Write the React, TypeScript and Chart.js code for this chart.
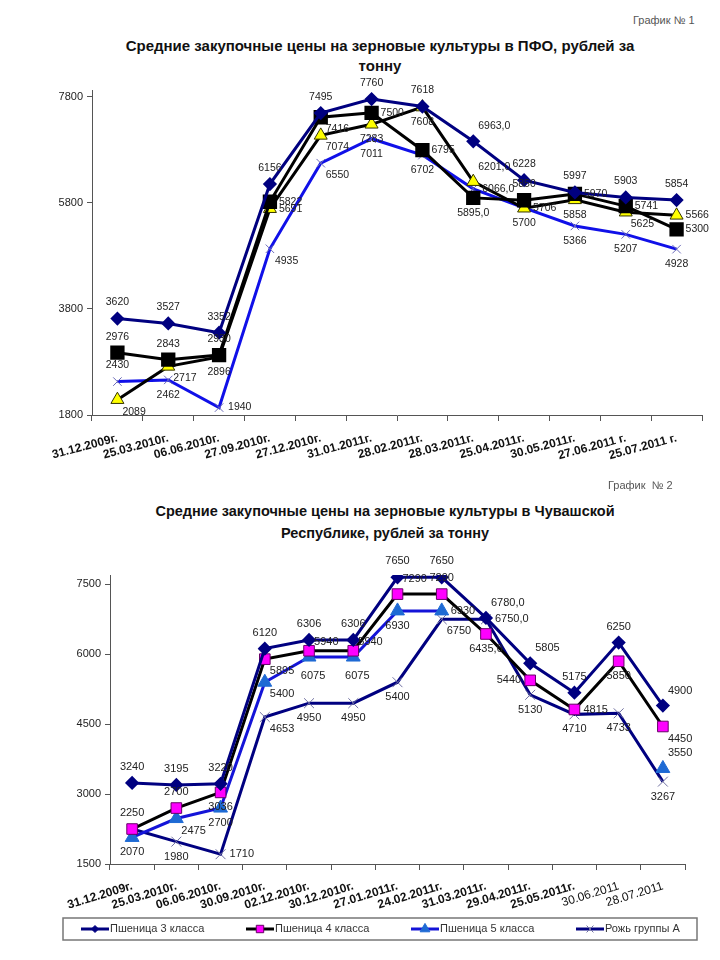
import React, { useEffect, useRef } from "react";
import { Chart, registerables } from "chart.js";

Chart.register(...registerables);

// ---------- Chart 1: ПФО ----------
const categories1 = [
  "31.12.2009г.", "25.03.2010г.", "06.06.2010г.", "27.09.2010г.", "27.12.2010г.", "31.01.2011г.",
  "28.02.2011г.", "28.03.2011г.", "25.04.2011г.", "30.05.2011г.", "27.06.2011 г.", "25.07.2011 г.",
];
const pfoWheat3 = [3620, 3527, 3352, 6156, 7495, 7760, 7618, 6963, 6228, 5997, 5903, 5854];
const pfoWheat4 = [2976, 2843, 2930, 5822, 7416, 7500, 6795, 5895, 5850, 5970, 5741, 5300];
const pfoWheat5 = [2089, 2717, 2896, 5691, 7074, 7283, 7608, 6201, 5700, 5858, 5625, 5566];
const pfoRye = [2430, 2462, 1940, 4935, 6550, 7011, 6702, 6066, 5706, 5366, 5207, 4928];
const yTicks1 = [1800, 3800, 5800, 7800];

// ---------- Chart 2: Чувашская Республика ----------
const categories2 = [
  "31.12.2009г.", "25.03.2010г.", "06.06.2010г.", "30.09.2010г.", "02.12.2010г.", "30.12.2010г.",
  "27.01.2011г.", "24.02.2011г.", "31.03.2011г.", "29.04.2011г.", "25.05.2011г.", "30.06.2011", "28.07.2011",
];
const chuvWheat3 = [3240, 3195, 3220, 6120, 6306, 6306, 7650, 7650, 6780, 5805, 5175, 6250, 4900];
const chuvWheat4 = [2250, 2700, 3036, 5895, 6075, 6075, 7290, 7290, 6435, 5440, 4815, 5850, 4450];
const chuvWheat5 = [2070, 2475, 2700, 5400, 5940, 5940, 6930, 6930, null, null, null, null, 3550];
const chuvRye = [2250, 1980, 1710, 4653, 4950, 4950, 5400, 6750, 6750, 5130, 4710, 4733, 3267];
const yTicks2 = [1500, 3000, 4500, 6000, 7500];

const seriesNames = ["Пшеница 3 класса", "Пшеница 4 класса", "Пшеница 5 класса", "Рожь группы А"];

// label placement (styling only)
const OFFS: Record<string, { dx: number; dy: number; align: CanvasTextAlign }> = {
  t: { dx: 0, dy: -16, align: "center" },
  b: { dx: 0, dy: 15, align: "center" },
  r: { dx: 9, dy: 0, align: "left" },
  l: { dx: -9, dy: 0, align: "right" },
  tr: { dx: 5, dy: -15, align: "left" },
  br: { dx: 5, dy: 12, align: "left" },
  bb: { dx: 4, dy: 25, align: "center" },
};

const place1 = [
  ["t", "t", "t", "t", "t", "t", "t", "tr", "t", "t", "t", "t"],
  ["t", "t", "t", "r", "br", "r", "r", "b", "t", "r", "r", "r"],
  ["br", "br", "b", "r", "br", "b", "b", "tr", "b", "b", "br", "r"],
  ["t", "b", "r", "br", "br", "b", "b", "r", "r", "b", "b", "b"],
];
const place2 = [
  ["t", "t", "t", "t", "t", "t", "t", "t", "tr", "tr", "t", "t", "tr"],
  ["t", "t", "b", "br", "bb", "bb", "tr", "t", "b", "l", "r", "b", "br"],
  ["b", "br", "b", "br", "tr", "tr", "b", "r", "b", "b", "b", "b", "tr"],
  ["n", "b", "r", "br", "b", "b", "b", "br", "r", "b", "b", "b", "b"],
];

function makeLabelPlugin(place: string[][], decimalIndex: number, font: string) {
  return {
    id: "pointLabels",
    afterDatasetsDraw(chart: any) {
      const ctx = chart.ctx as CanvasRenderingContext2D;
      ctx.save();
      ctx.font = font;
      ctx.fillStyle = "#222";
      ctx.textBaseline = "middle";
      chart.data.datasets.forEach((ds: any, di: number) => {
        const meta = chart.getDatasetMeta(di);
        meta.data.forEach((el: any, i: number) => {
          const v = ds.data[i];
          if (v == null) return;
          const code = place[di][i];
          if (code === "n") return;
          const o = OFFS[code] || OFFS.t;
          const txt = i === decimalIndex ? `${v},0` : String(v);
          ctx.textAlign = o.align;
          ctx.fillText(txt, el.x + o.dx, el.y + o.dy);
        });
      });
      ctx.restore();
    },
  };
}

function drawMarker(ctx: CanvasRenderingContext2D, style: string, x: number, y: number, r: number, fill: string, stroke: string) {
  ctx.save();
  ctx.fillStyle = fill;
  ctx.strokeStyle = stroke;
  ctx.lineWidth = 1;
  ctx.beginPath();
  if (style === "rectRot") {
    ctx.moveTo(x, y - r); ctx.lineTo(x + r, y); ctx.lineTo(x, y + r); ctx.lineTo(x - r, y); ctx.closePath();
    ctx.fill(); ctx.stroke();
  } else if (style === "rect") {
    const s = r * Math.SQRT1_2;
    ctx.rect(x - s, y - s, 2 * s, 2 * s); ctx.fill(); ctx.stroke();
  } else if (style === "triangle") {
    ctx.moveTo(x, y - r); ctx.lineTo(x + r * 0.866, y + r / 2); ctx.lineTo(x - r * 0.866, y + r / 2); ctx.closePath();
    ctx.fill(); ctx.stroke();
  } else {
    const s = r * 0.7;
    ctx.moveTo(x - s, y - s); ctx.lineTo(x + s, y + s); ctx.moveTo(x + s, y - s); ctx.lineTo(x - s, y + s);
    ctx.stroke();
  }
  ctx.restore();
}

const legendPlugin = {
  id: "boxLegend",
  afterDraw(chart: any) {
    const ctx = chart.ctx as CanvasRenderingContext2D;
    const left = 23, top = chart.height - 32, w = 634, h = 22;
    ctx.save();
    ctx.strokeStyle = "#777";
    ctx.lineWidth = 1.5;
    ctx.strokeRect(left, top, w, h);
    ctx.font = "11px 'Liberation Sans', Arial, sans-serif";
    ctx.fillStyle = "#333";
    ctx.textBaseline = "middle";
    ctx.textAlign = "left";
    chart.data.datasets.forEach((ds: any, i: number) => {
      const x = left + 18 + i * 165;
      const y = top + h / 2;
      ctx.strokeStyle = ds.borderColor;
      ctx.lineWidth = 3;
      ctx.beginPath();
      ctx.moveTo(x, y);
      ctx.lineTo(x + 28, y);
      ctx.stroke();
      drawMarker(ctx, ds.pointStyle, x + 14, y, ds.pointRadius * 0.7, ds.pointBackgroundColor, ds.pointBorderColor);
      ctx.fillStyle = "#333";
      ctx.fillText(ds.label, x + 29, y);
    });
    ctx.restore();
  },
};

function baseOptions(opts: {
  min: number; max: number; ticks: number[]; yWidth: number; xHeight: number;
  padding: any; xFont: (c: any) => any; rotation: number; yFontSize: number; xPad: number;
}) {
  return {
    responsive: false,
    animation: false as const,
    layout: { padding: opts.padding },
    plugins: { legend: { display: false }, tooltip: { enabled: false }, title: { display: false } },
    scales: {
      x: {
        offset: true,
        grid: { offset: true, drawOnChartArea: false, drawTicks: true, tickLength: 6, color: "#555" },
        border: { display: true, color: "#555", width: 1 },
        ticks: {
          autoSkip: false,
          minRotation: opts.rotation,
          maxRotation: opts.rotation,
          color: "#111",
          padding: opts.xPad,
          font: opts.xFont,
        },
        afterFit: (s: any) => { s.height = opts.xHeight; },
      },
      y: {
        min: opts.min,
        max: opts.max,
        grid: { drawOnChartArea: false, drawTicks: true, tickLength: 5, color: "#555" },
        border: { display: true, color: "#555", width: 1 },
        ticks: {
          color: "#222",
          padding: 4,
          font: { family: "'Liberation Sans', Arial, sans-serif", size: opts.yFontSize },
          callback: (v: any) => String(v),
        },
        afterBuildTicks: (s: any) => { s.ticks = opts.ticks.map((v) => ({ value: v })); },
        afterFit: (s: any) => { s.width = opts.yWidth; },
      },
    },
  };
}

function ChartCanvas({ config, left, top, width, height }: any) {
  const ref = useRef<HTMLCanvasElement>(null);
  useEffect(() => {
    if (!ref.current) return;
    const ch = new Chart(ref.current, config);
    return () => ch.destroy();
  }, []);
  return (
    <canvas
      ref={ref}
      width={width}
      height={height}
      style={{ position: "absolute", left, top, width, height }}
    />
  );
}

const FONT = "'Liberation Sans', Arial, sans-serif";

export default function App() {
  const config1: any = {
    type: "line",
    data: {
      labels: categories1,
      datasets: [
        { label: seriesNames[0], data: pfoWheat3, borderColor: "#000080", borderWidth: 3, pointStyle: "rectRot", pointRadius: 5, pointBackgroundColor: "#000080", pointBorderColor: "#000080" },
        { label: seriesNames[1], data: pfoWheat4, borderColor: "#000000", borderWidth: 3, pointStyle: "rect", pointRadius: 8, pointBackgroundColor: "#000000", pointBorderColor: "#000000" },
        { label: seriesNames[2], data: pfoWheat5, borderColor: "#000000", borderWidth: 3, pointStyle: "triangle", pointRadius: 7.5, pointBackgroundColor: "#ffff00", pointBorderColor: "#333300", pointBorderWidth: 1 },
        { label: seriesNames[3], data: pfoRye, borderColor: "#1010e8", borderWidth: 3, pointStyle: "crossRot", pointRadius: 6, pointBackgroundColor: "#6a6ab8", pointBorderColor: "#6a6ab8", pointBorderWidth: 1 },
      ],
    },
    options: baseOptions({
      min: 1800, max: 7930, ticks: yTicks1, yWidth: 52, xHeight: 65,
      padding: { top: 20, right: 18, left: 0, bottom: 0 },
      xFont: () => ({ family: FONT, size: 12, weight: "bold" }),
      rotation: 15, yFontSize: 11, xPad: 10,
    }),
    plugins: [makeLabelPlugin(place1, 7, `10.5px ${FONT}`)],
  };

  const config2: any = {
    type: "line",
    data: {
      labels: categories2,
      datasets: [
        { label: seriesNames[0], data: chuvWheat3, borderColor: "#000080", borderWidth: 3, pointStyle: "rectRot", pointRadius: 5, pointBackgroundColor: "#000080", pointBorderColor: "#000080" },
        { label: seriesNames[1], data: chuvWheat4, borderColor: "#000000", borderWidth: 3, pointStyle: "rect", pointRadius: 7.5, pointBackgroundColor: "#ff00ff", pointBorderColor: "#660066", pointBorderWidth: 1 },
        { label: seriesNames[2], data: chuvWheat5, borderColor: "#1414d8", borderWidth: 3, pointStyle: "triangle", pointRadius: 8, pointBackgroundColor: "#1e6ad4", pointBorderColor: "#1e6ad4", pointBorderWidth: 1, spanGaps: false },
        { label: seriesNames[3], data: chuvRye, borderColor: "#000080", borderWidth: 3, pointStyle: "crossRot", pointRadius: 7, pointBackgroundColor: "#7070a0", pointBorderColor: "#7070a0", pointBorderWidth: 1 },
      ],
    },
    options: baseOptions({
      min: 1500, max: 7700, ticks: yTicks2, yWidth: 70, xHeight: 52,
      padding: { top: 30, right: 35, left: 0, bottom: 34 },
      xFont: (c: any) => ({ family: FONT, size: 12, weight: c.index >= 11 ? "normal" : "bold" }),
      rotation: 17, yFontSize: 11, xPad: 9,
    }),
    plugins: [makeLabelPlugin(place2, 8, `11px ${FONT}`), legendPlugin],
  };

  return (
    <div style={{ position: "absolute", left: 0, top: 0, width: 720, height: 960, background: "#fff", fontFamily: FONT, overflow: "hidden" }}>
      <div style={{ position: "absolute", left: 633, top: 14, fontSize: 11, color: "#555" }}>График № 1</div>
      <div style={{ position: "absolute", left: 80, top: 36, width: 600, textAlign: "center", fontWeight: "bold", fontSize: 15, lineHeight: "20px", color: "#111" }}>
        Средние закупочные цены на зерновые культуры в ПФО, рублей за<br />тонну
      </div>
      <ChartCanvas config={config1} left={40} top={70} width={680} height={410} />

      <div style={{ position: "absolute", left: 608, top: 479, fontSize: 11, color: "#555", whiteSpace: "pre" }}>График  № 2</div>
      <div style={{ position: "absolute", left: 85, top: 500, width: 600, textAlign: "center", fontWeight: "bold", fontSize: 14.5, lineHeight: "22px", color: "#111" }}>
        Средние закупочные цены на зерновые культуры в Чувашской<br />Республике, рублей за тонну
      </div>
      <ChartCanvas config={config2} left={40} top={545} width={680} height={405} />
    </div>
  );
}
